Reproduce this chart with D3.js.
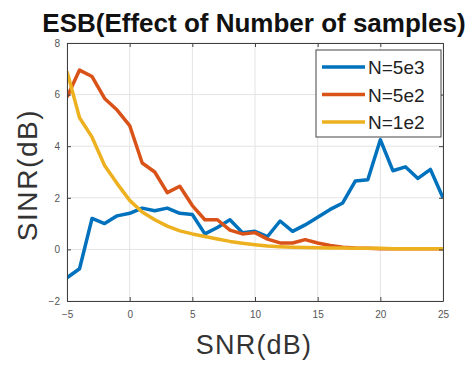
<!DOCTYPE html>
<html>
<head>
<meta charset="utf-8">
<script src="https://cdn.jsdelivr.net/npm/d3@7"></script>
<style>
  html, body { margin: 0; padding: 0; background: #fff; }
  svg { display: block; font-family: "Liberation Sans", Arial, sans-serif; }
</style>
</head>
<body>
<svg id="chart" width="474" height="365"></svg>
<script>
// SNR sweep (dB) and SINR results (dB) for three sample counts
const snr = d3.range(-5, 26);
const seriesNames = ["N=5e3", "N=5e2", "N=1e2"];
const sinrN5e3 = [-1.1, -0.75, 1.2, 1.0, 1.3, 1.4, 1.6, 1.5, 1.6, 1.4, 1.35, 0.6, 0.85, 1.15, 0.65, 0.7,
                  0.5, 1.1, 0.7, 0.95, 1.25, 1.55, 1.8, 2.65, 2.7, 4.25, 3.05, 3.2, 2.75, 3.1, 2.0];
const sinrN5e2 = [5.9, 6.95, 6.7, 5.85, 5.4, 4.8, 3.35, 3.0, 2.2, 2.45, 1.7, 1.15, 1.15, 0.75, 0.6, 0.65,
                  0.4, 0.25, 0.25, 0.38, 0.25, 0.15, 0.08, 0.05, 0.04, 0.03, 0.03, 0.03, 0.03, 0.03, 0.03];
const sinrN1e2 = [6.9, 5.1, 4.35, 3.25, 2.55, 1.9, 1.45, 1.15, 0.9, 0.72, 0.6, 0.5, 0.4, 0.31, 0.24, 0.18,
                  0.13, 0.1, 0.08, 0.07, 0.06, 0.05, 0.05, 0.04, 0.04, 0.04, 0.03, 0.03, 0.03, 0.03, 0.03];
const xTicks = [-5, 0, 5, 10, 15, 20, 25];
const yTicks = [-2, 0, 2, 4, 6, 8];
const colors = ["#0072BD", "#D95319", "#EDB120"];

const series = [sinrN5e3, sinrN5e2, sinrN1e2];

const svg = d3.select("#chart");
const plot = { left: 67, right: 443, top: 43, bottom: 301 };

const x = d3.scaleLinear().domain([-5, 25]).range([plot.left, plot.right]);
const y = d3.scaleLinear().domain([-2, 8]).range([plot.bottom, plot.top]);

// grid
const grid = svg.append("g");
grid.selectAll("line.gx").data(xTicks).join("line")
  .attr("x1", d => x(d)).attr("x2", d => x(d))
  .attr("y1", plot.top).attr("y2", plot.bottom)
  .attr("stroke", "#e4e4e4").attr("stroke-width", 1);
grid.selectAll("line.gy").data(yTicks).join("line")
  .attr("y1", d => y(d)).attr("y2", d => y(d))
  .attr("x1", plot.left).attr("x2", plot.right)
  .attr("stroke", "#e4e4e4").attr("stroke-width", 1);

// axes with inward ticks
const xAxis = d3.axisBottom(x).tickValues(xTicks).tickSizeInner(-4).tickSizeOuter(0).tickPadding(10);
const yAxis = d3.axisLeft(y).tickValues(yTicks).tickSizeInner(-4).tickSizeOuter(0).tickPadding(7);
const xTop = d3.axisTop(x).tickValues(xTicks).tickSizeInner(-4).tickSizeOuter(0).tickFormat("");
const yRight = d3.axisRight(y).tickValues(yTicks).tickSizeInner(-4).tickSizeOuter(0).tickFormat("");

function styleAxis(g) {
  g.selectAll("path.domain").attr("stroke", "#404040").attr("stroke-width", 1);
  g.selectAll(".tick line").attr("stroke", "#404040");
  g.selectAll(".tick text").attr("fill", "#555").attr("font-size", 10)
    .attr("font-family", "Liberation Sans, Arial, sans-serif");
}

// lines
const line = d3.line().x((d, i) => x(snr[i])).y(d => y(d));
const clipId = "plotclip";
svg.append("clipPath").attr("id", clipId).append("rect")
  .attr("x", plot.left).attr("y", plot.top)
  .attr("width", plot.right - plot.left).attr("height", plot.bottom - plot.top);

svg.append("g").attr("clip-path", `url(#${clipId})`)
  .selectAll("path").data(series).join("path")
  .attr("d", d => line(d))
  .attr("fill", "none")
  .attr("stroke", (d, i) => colors[i])
  .attr("stroke-width", 3.5)
  .attr("stroke-linejoin", "round");

svg.append("g").attr("transform", `translate(0,${plot.bottom})`).call(xAxis).call(styleAxis);
svg.append("g").attr("transform", `translate(${plot.left},0)`).call(yAxis).call(styleAxis);
svg.append("g").attr("transform", `translate(0,${plot.top})`).call(xTop).call(styleAxis);
svg.append("g").attr("transform", `translate(${plot.right},0)`).call(yRight).call(styleAxis);

// title and axis labels
svg.append("text").attr("x", 254).attr("y", 32).attr("text-anchor", "middle")
  .attr("font-size", 26).attr("font-weight", "bold").attr("fill", "#111")
  .text("ESB(Effect of Number of samples)");
svg.append("text").attr("x", 254).attr("y", 354).attr("text-anchor", "middle")
  .attr("font-size", 27).attr("letter-spacing", 1.2).attr("fill", "#333").text("SNR(dB)");
svg.append("text").attr("transform", "translate(37,175) rotate(-90)").attr("text-anchor", "middle")
  .attr("font-size", 28).attr("letter-spacing", 1.6).attr("fill", "#333").text("SINR(dB)");

// legend
const lg = svg.append("g").attr("transform", "translate(316,50)");
lg.append("rect").attr("width", 125).attr("height", 87)
  .attr("fill", "#fff").attr("stroke", "#444").attr("stroke-width", 1);
const rows = lg.selectAll("g.row").data(seriesNames).join("g")
  .attr("transform", (d, i) => `translate(0,${17 + i * 27.5})`);
rows.append("line").attr("x1", 6).attr("x2", 49).attr("y1", 0).attr("y2", 0)
  .attr("stroke", (d, i) => colors[i]).attr("stroke-width", 3.5);
rows.append("text").attr("x", 52).attr("y", 7).attr("font-size", 19).attr("fill", "#222")
  .text(d => d);
</script>
</body>
</html>
